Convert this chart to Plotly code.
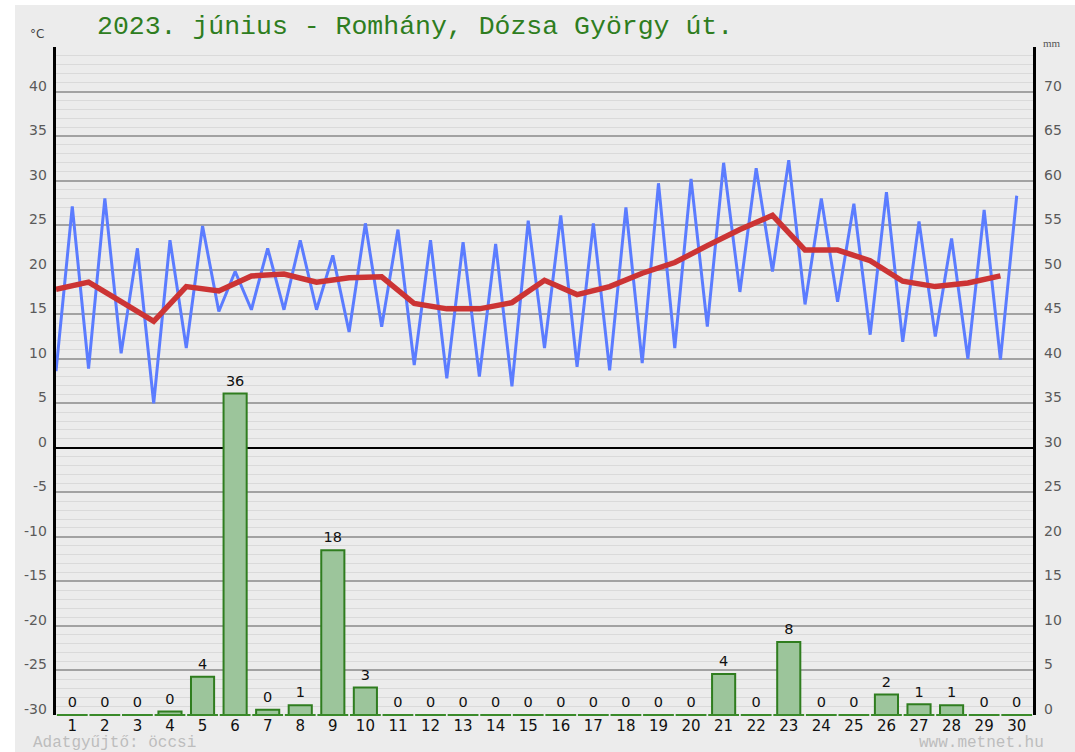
import plotly.graph_objects as go

# ---- data ----
days = list(range(1, 31))
day_labels = [str(d) for d in days]

tmin = [8.6, 8.9, 10.6, 5.0, 11.2, 15.3, 15.5, 15.5, 15.5, 13.0,
        13.6, 9.3, 7.8, 8.0, 6.9, 11.2, 9.1, 8.7, 9.5, 11.2,
        13.6, 17.5, 19.8, 16.1, 16.4, 12.7, 11.9, 12.5, 10.0, 9.9]
tmax = [27.1, 28.0, 22.4, 23.3, 24.9, 19.8, 22.4, 23.3, 21.6, 25.2,
        24.5, 23.3, 23.1, 22.9, 25.5, 26.1, 25.2, 27.0, 29.7, 30.2,
        32.0, 31.4, 32.3, 28.0, 27.4, 28.7, 25.4, 23.5, 26.7, 28.3]
tavg = [17.8, 18.6, 16.4, 14.2, 18.1, 17.6, 19.3, 19.5, 18.6, 19.1,
        19.2, 16.2, 15.6, 15.6, 16.3, 18.8, 17.2, 18.1, 19.6, 20.8,
        22.7, 24.5, 26.1, 22.2, 22.2, 21.0, 18.7, 18.1, 18.5, 19.3]
precip = [0, 0, 0, 0.4, 4.3, 36.1, 0.6, 1.1, 18.5, 3.1,
          0, 0, 0, 0, 0, 0, 0, 0, 0, 0,
          4.6, 0, 8.2, 0, 0, 2.3, 1.2, 1.1, 0, 0]
precip_labels = ["0", "0", "0", "0", "4", "36", "0", "1", "18", "3",
                 "0", "0", "0", "0", "0", "0", "0", "0", "0", "0",
                 "4", "0", "8", "0", "0", "2", "1", "1", "0", "0"]

temp_ticks = list(range(-30, 41, 5))
temp_ticktext = [str(v) for v in temp_ticks]
temp_grid = list(range(-30, 46, 5))
mm_ticks = list(range(0, 71, 5))
mm_ticktext = [str(v) for v in mm_ticks]

title_text = "2023. június - Romhány, Dózsa György út."

# ---- derived series ----
x_blue, y_blue = [], []
for d, lo, hi in zip(days, tmin, tmax):
    x_blue += [d - 0.5, d]
    y_blue += [lo, hi]
x_avg = [d - 0.5 for d in days]
baseline = [0 for _ in days]

# page geometry helpers (pixels -> paper)
W, H = 1075, 752
ML, MR, MT, MB = 56, 42, 47, 37
PW, PH = W - ML - MR, H - MT - MB


def px(x):
    return (x - ML) / PW


def py(y):
    return (H - MB - y) / PH


fig = go.Figure()

fig.add_trace(go.Bar(
    x=days, y=precip, yaxis="y2", width=0.71,
    marker=dict(color="#9cc59b", line=dict(color="#2f7d1f", width=2)),
    showlegend=False, hoverinfo="skip"))
fig.add_trace(go.Scatter(
    x=days, y=baseline, yaxis="y2", mode="markers",
    marker=dict(symbol="line-ew", size=22, line=dict(color="#3a8a2a", width=2)),
    cliponaxis=False, showlegend=False, hoverinfo="skip"))
fig.add_trace(go.Scatter(
    x=days, y=precip, yaxis="y2", mode="markers+text", text=precip_labels,
    textposition="top center",
    marker=dict(size=5, color="rgba(0,0,0,0)"),
    textfont=dict(family="DejaVu Sans", size=14.5, color="#111111"),
    cliponaxis=False, showlegend=False, hoverinfo="skip"))
fig.add_trace(go.Scatter(
    x=x_blue, y=y_blue, mode="lines",
    line=dict(color="#5b7cff", width=3),
    showlegend=False, hoverinfo="skip"))
fig.add_trace(go.Scatter(
    x=x_avg, y=tavg, mode="lines",
    line=dict(color="#cc3434", width=5.5),
    showlegend=False, hoverinfo="skip"))

annotations = [
    dict(text=title_text, xref="paper", yref="paper", x=px(95), y=py(27),
         xanchor="left", yanchor="middle", showarrow=False,
         font=dict(family="Liberation Mono", size=26.5, color="#2e7d20")),
    dict(text="°C", xref="paper", yref="paper", x=px(37), y=py(34),
         xanchor="center", yanchor="middle", showarrow=False,
         font=dict(family="DejaVu Sans", size=12, color="#444444")),
    dict(text="mm", xref="paper", yref="paper", x=px(1052), y=py(43),
         xanchor="center", yanchor="middle", showarrow=False,
         font=dict(family="Liberation Serif", size=11, color="#555555")),
    dict(text="Adatgyűjtő: öccsi", xref="paper", yref="paper", x=px(31), y=py(743),
         xanchor="left", yanchor="middle", showarrow=False,
         font=dict(family="Liberation Mono", size=16, color="#bdbdbd")),
    dict(text="www.metnet.hu", xref="paper", yref="paper", x=px(1046), y=py(743),
         xanchor="right", yanchor="middle", showarrow=False,
         font=dict(family="Liberation Mono", size=16, color="#bdbdbd")),
]
# axis tick labels, sitting slightly above their gridlines as in the reference
for v, t in zip(temp_ticks, temp_ticktext):
    annotations.append(dict(text=t, xref="paper", yref="y", x=px(48.5), y=v,
                            xanchor="right", yanchor="middle", yshift=6,
                            showarrow=False,
                            font=dict(family="DejaVu Sans", size=14, color="#5a5a5a")))
for v, t in zip(mm_ticks, mm_ticktext):
    annotations.append(dict(text=t, xref="paper", yref="y2", x=px(1042), y=v,
                            xanchor="left", yanchor="middle", yshift=6,
                            showarrow=False,
                            font=dict(family="DejaVu Sans", size=14, color="#5a5a5a")))

fig.update_layout(
    width=W, height=H,
    margin=dict(l=ML, r=MR, t=MT, b=MB, pad=0),
    paper_bgcolor="#ececec", plot_bgcolor="#ececec",
    hovermode=False, showlegend=False,
    font=dict(family="DejaVu Sans"),
    xaxis=dict(range=[0.5, 30.5], tickmode="array", tickvals=days,
               ticktext=day_labels, showgrid=False, zeroline=False,
               showline=False, ticks="",
               tickfont=dict(family="DejaVu Sans", size=15, color="#111111")),
    yaxis=dict(range=[-30, 45], tickmode="array", tickvals=temp_grid,
               showticklabels=False, showgrid=True, gridcolor="#a2a2a2",
               gridwidth=1.5,
               minor=dict(tickmode="linear", tick0=-30, dtick=1, showgrid=True,
                          gridcolor="#dadada", gridwidth=1, ticks=""),
               zeroline=True, zerolinecolor="#000000", zerolinewidth=2,
               showline=True, linecolor="#000000", linewidth=3, ticks=""),
    yaxis2=dict(range=[0, 75], overlaying="y", side="right",
                tickmode="array", tickvals=mm_ticks, showticklabels=False,
                showgrid=False, zeroline=False, showline=True,
                linecolor="#000000", linewidth=3, ticks=""),
    shapes=[
        dict(type="rect", xref="paper", yref="paper", x0=px(0), x1=px(W),
             y0=py(5), y1=py(0), fillcolor="#ffffff", line=dict(width=0), layer="above"),
        dict(type="rect", xref="paper", yref="paper", x0=px(0), x1=px(15),
             y0=py(H), y1=py(0), fillcolor="#ffffff", line=dict(width=0), layer="above"),
    ],
    annotations=annotations,
)

fig.write_html(
    "out.html",
    config={"displayModeBar": False},
    post_script="document.body.style.margin='0';document.body.style.overflow='hidden';",
)
